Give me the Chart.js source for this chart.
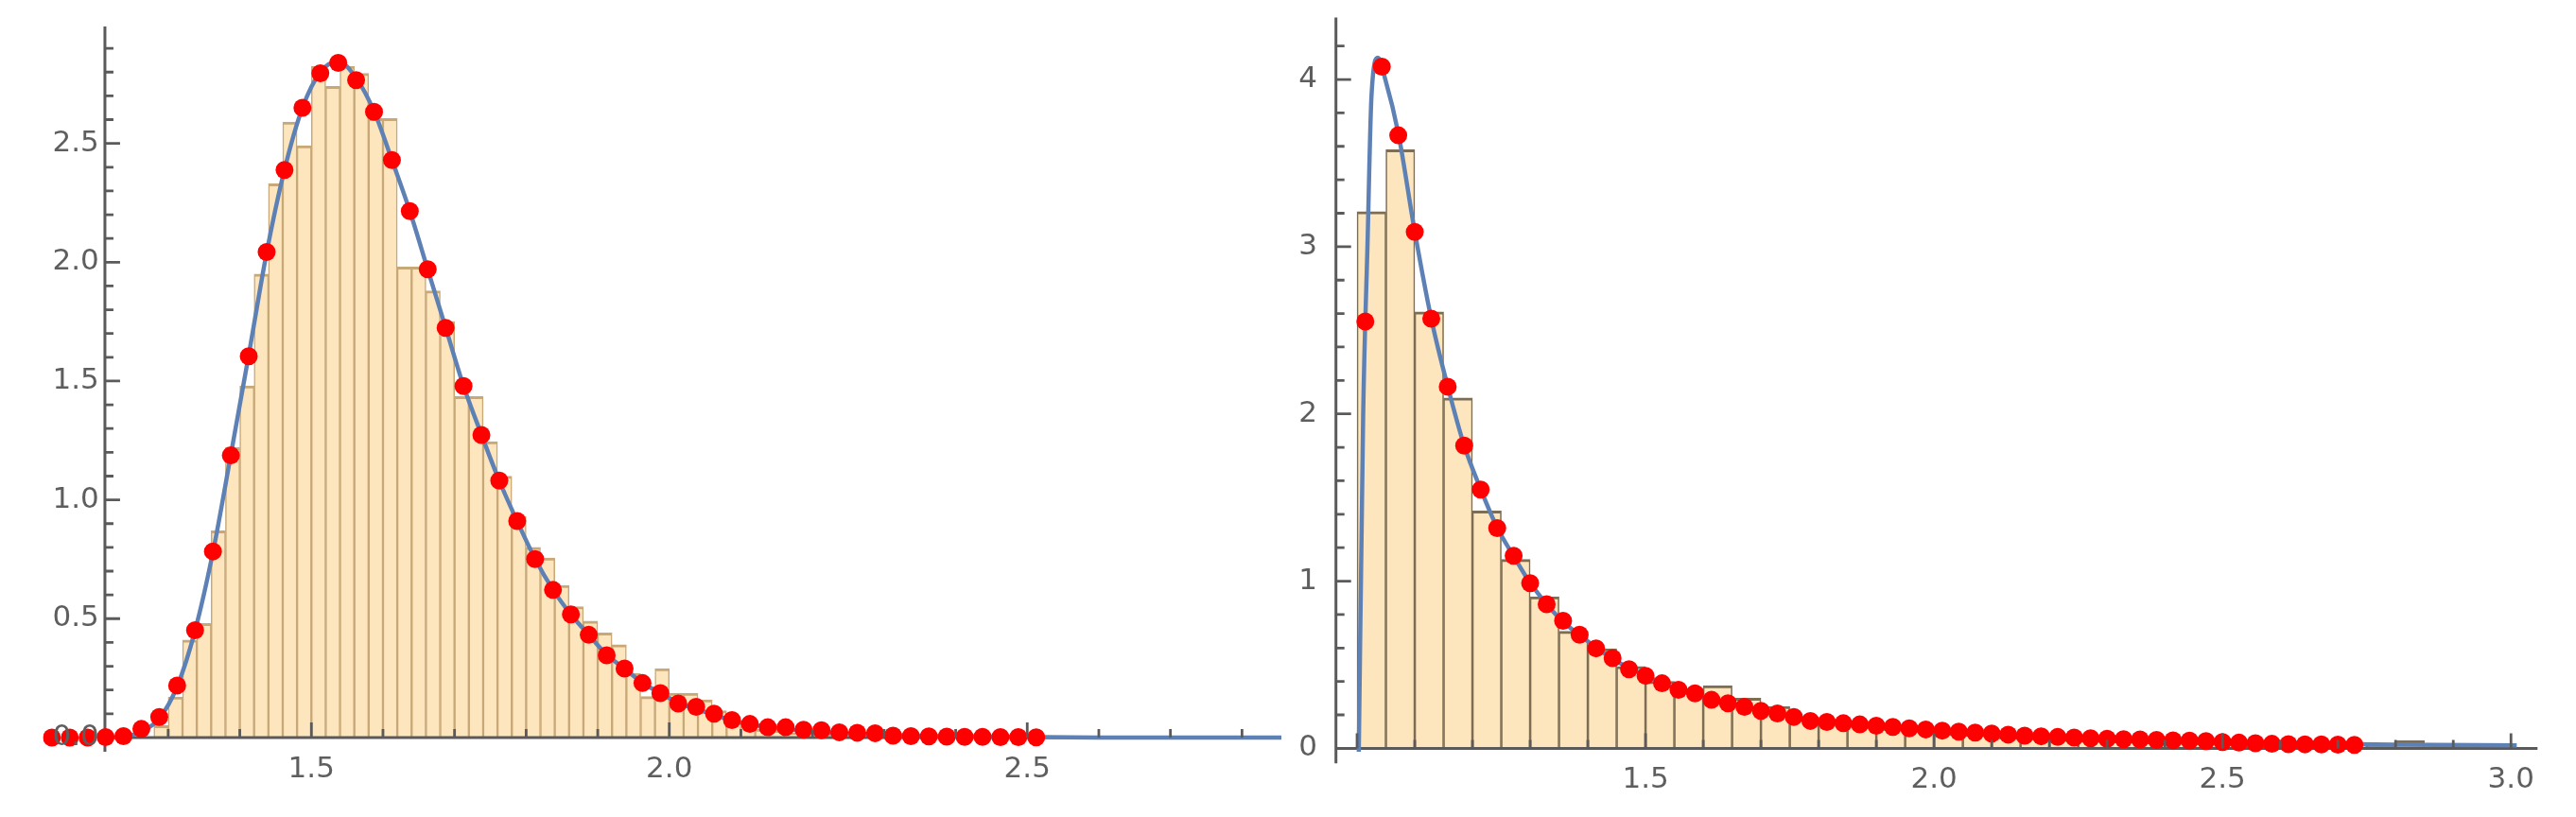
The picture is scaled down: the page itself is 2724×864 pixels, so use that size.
<!DOCTYPE html>
<html>
<head>
<meta charset="utf-8">
<script src="https://cdn.jsdelivr.net/npm/chart.js@4.4.1/dist/chart.umd.min.js"></script>
<style>
  html, body { margin: 0; padding: 0; background: #fff; }
  body { width: 2724px; height: 864px; position: relative; overflow: hidden; }
  canvas { position: absolute; top: 0; }
  #left { left: 0; }
  #right { left: 1370px; }
</style>
</head>
<body>
<canvas id="left" width="1370" height="864"></canvas>
<canvas id="right" width="1354" height="864"></canvas>
<script>
// ---- left panel: histogram (bin width 0.02), red points, fitted curve
const LEFT_BIN_W = 0.02;
const leftBinStart = [1.28, 1.30, 1.32, 1.34, 1.36, 1.38, 1.40, 1.42, 1.44, 1.46, 1.48, 1.50, 1.52, 1.54, 1.56, 1.58,
  1.60, 1.62, 1.64, 1.66, 1.68, 1.70, 1.72, 1.74, 1.76, 1.78, 1.80, 1.82, 1.84, 1.86, 1.88, 1.90, 1.92, 1.94, 1.96,
  1.98, 2.00, 2.02, 2.04, 2.06, 2.08, 2.10, 2.12, 2.14, 2.16, 2.18, 2.20, 2.22, 2.24, 2.26];
const leftBinHeight = [0.05, 0.17, 0.41, 0.48, 0.87, 1.22, 1.48, 1.95, 2.33, 2.59, 2.49, 2.825, 2.74, 2.825, 2.795, 2.605,
  2.605, 1.98, 1.98, 1.88, 1.75, 1.435, 1.435, 1.245, 1.10, 0.93, 0.80, 0.755, 0.64, 0.55, 0.49, 0.44, 0.39, 0.27, 0.172,
  0.29, 0.186, 0.186, 0.159, 0.113, 0.07, 0.05, 0.035, 0.03, 0.02, 0.018, 0.012, 0.01, 0.008, 0.006];

const leftPointX = [1.1375, 1.1625, 1.1875, 1.2125, 1.2375, 1.2625, 1.2875, 1.3125, 1.3375, 1.3625, 1.3875, 1.4125,
  1.4375, 1.4625, 1.4875, 1.5125, 1.5375, 1.5625, 1.5875, 1.6125, 1.6375, 1.6625, 1.6875, 1.7125, 1.7375, 1.7625,
  1.7875, 1.8125, 1.8375, 1.8625, 1.8875, 1.9125, 1.9375, 1.9625, 1.9875, 2.0125, 2.0375, 2.0625, 2.0875, 2.1125,
  2.1375, 2.1625, 2.1875, 2.2125, 2.2375, 2.2625, 2.2875, 2.3125, 2.3375, 2.3625, 2.3875, 2.4125, 2.4375, 2.4625,
  2.4875, 2.5125];
const leftPointY = [0.0, 0.0, 0.0, 0.002, 0.006, 0.036, 0.086, 0.219, 0.451, 0.783, 1.187, 1.604,
  2.043, 2.388, 2.650, 2.795, 2.839, 2.766, 2.633, 2.430, 2.215, 1.970, 1.724, 1.479, 1.273, 1.081,
  0.911, 0.751, 0.621, 0.518, 0.432, 0.346, 0.290, 0.229, 0.187, 0.143, 0.129, 0.100, 0.073, 0.057,
  0.043, 0.043, 0.033, 0.031, 0.022, 0.020, 0.018, 0.008, 0.006, 0.005, 0.004, 0.003, 0.003, 0.002,
  0.002, 0.001];

const leftCurveX = [1.2125, 1.2375, 1.2625, 1.2875, 1.3125, 1.3375, 1.3625, 1.3875, 1.4125, 1.4375, 1.4625, 1.4875,
  1.5125, 1.5375, 1.5625, 1.5875, 1.6125, 1.6375, 1.6625, 1.6875, 1.7125, 1.7375, 1.7625, 1.7875, 1.8125, 1.8375,
  1.8625, 1.8875, 1.9125, 1.9375, 1.9625, 1.9875, 2.0125, 2.05, 2.10, 2.15, 2.20, 2.30, 2.40, 2.50, 2.60, 2.855];
const leftCurveY = [0.0, 0.004, 0.025, 0.08, 0.215, 0.45, 0.78, 1.19, 1.61, 2.04, 2.39, 2.65,
  2.80, 2.845, 2.775, 2.635, 2.43, 2.215, 1.97, 1.725, 1.48, 1.275, 1.08, 0.91, 0.752, 0.622,
  0.518, 0.432, 0.348, 0.29, 0.23, 0.187, 0.146, 0.108, 0.062, 0.04, 0.026, 0.012, 0.005, 0.002, 0.0, 0.0];

// ---- right panel: histogram (bin width 0.05), red points, fitted curve
const RIGHT_BIN_W = 0.05;
const rightBinStart = [1.00, 1.05, 1.10, 1.15, 1.20, 1.25, 1.30, 1.35, 1.40, 1.45, 1.50, 1.55, 1.60, 1.65, 1.70, 1.75,
  1.80, 1.85, 1.90, 1.95, 2.00, 2.05, 2.10, 2.15, 2.20, 2.25, 2.30, 2.35, 2.40, 2.45, 2.50, 2.55, 2.60, 2.65, 2.70,
  2.75, 2.80];
const rightBinHeight = [3.21, 3.58, 2.61, 2.095, 1.42, 1.13, 0.907, 0.70, 0.596, 0.49, 0.40, 0.36, 0.375, 0.30, 0.25, 0.19,
  0.16, 0.14, 0.12, 0.11, 0.09, 0.085, 0.07, 0.065, 0.055, 0.05, 0.045, 0.04, 0.038, 0.035, 0.03, 0.028, 0.025, 0.022, 0.03,
  0.015, 0.045];

const rightPointX = [1.0143, 1.0429, 1.0714, 1.1000, 1.1286, 1.1571, 1.1857, 1.2143, 1.2429, 1.2714, 1.3000, 1.3286,
  1.3571, 1.3857, 1.4143, 1.4429, 1.4714, 1.5000, 1.5286, 1.5571, 1.5857, 1.6143, 1.6429, 1.6714, 1.7000, 1.7286,
  1.7571, 1.7857, 1.8143, 1.8429, 1.8714, 1.9000, 1.9286, 1.9571, 1.9857, 2.0143, 2.0429, 2.0714, 2.1000, 2.1286,
  2.1571, 2.1857, 2.2143, 2.2429, 2.2714, 2.3000, 2.3286, 2.3571, 2.3857, 2.4143, 2.4429, 2.4714, 2.5000, 2.5286,
  2.5571, 2.5857, 2.6143, 2.6429, 2.6714, 2.7000, 2.7286];
const rightPointY = [2.552, 4.076, 3.666, 3.088, 2.570, 2.163, 1.810, 1.547, 1.317, 1.152, 0.988, 0.862,
  0.763, 0.679, 0.598, 0.539, 0.473, 0.434, 0.389, 0.350, 0.329, 0.290, 0.269, 0.248, 0.224, 0.209,
  0.188, 0.164, 0.158, 0.150, 0.143, 0.135, 0.128, 0.120, 0.113, 0.106, 0.100, 0.094, 0.088, 0.082,
  0.076, 0.072, 0.068, 0.064, 0.060, 0.057, 0.055, 0.053, 0.050, 0.048, 0.046, 0.043, 0.038, 0.034,
  0.030, 0.027, 0.025, 0.024, 0.023, 0.022, 0.021];

const rightCurveX = [1.003, 1.0106, 1.018, 1.025, 1.036, 1.049, 1.0714, 1.10, 1.1286, 1.1571, 1.1857, 1.2143,
  1.2429, 1.2714, 1.30, 1.35, 1.40, 1.45, 1.50, 1.55, 1.60, 1.70, 1.80, 1.90, 2.00, 2.20, 2.40, 2.60, 2.80, 3.01];
const rightCurveY = [-0.02, 2.0, 3.0, 3.9, 4.13, 4.0, 3.68, 3.09, 2.57, 2.165, 1.81, 1.55,
  1.32, 1.15, 0.99, 0.78, 0.64, 0.52, 0.435, 0.36, 0.305, 0.225, 0.165, 0.13, 0.105, 0.068, 0.047, 0.03, 0.022, 0.018];

// ---- styles
const AXIS_COLOR = '#5a5a5a';
const LABEL_COLOR = '#5e5e5e';
const BAR_FILL = '#fde5bd';
const CURVE_COLOR = '#5e81b5';
const POINT_COLOR = '#ff0000';
const MAJOR_TICK = 16;
const MINOR_TICK = 9;

Chart.defaults.font.family = "'DejaVu Sans', sans-serif";

const isMajor = (v, step) => Math.abs(v / step - Math.round(v / step)) < 1e-6;
const toPoints = (xs, ys) => xs.map((x, i) => ({ x, y: ys[i] }));

// axes crossing at (originX, 0), ticks pointing inward like the original
const mmaAxes = {
  id: 'mmaAxes',
  afterDatasetDraw(chart, args, opts) {
    if (args.meta.type !== 'bar') return;
    const { ctx } = chart;
    const xs = chart.scales.x, ys = chart.scales.y;
    const ox = xs.getPixelForValue(opts.originX);
    const oy = ys.getPixelForValue(0);
    ctx.save();
    ctx.strokeStyle = AXIS_COLOR;
    ctx.lineWidth = 3;
    ctx.beginPath();
    ctx.moveTo(ox, ys.top);
    ctx.lineTo(ox, ys.bottom);
    ctx.moveTo(ox - 1.5, oy);
    ctx.lineTo(xs.right, oy);
    ctx.stroke();
    ctx.restore();
  },
  afterDraw(chart, args, opts) {
    const { ctx } = chart;
    const xs = chart.scales.x, ys = chart.scales.y;
    const ox = xs.getPixelForValue(opts.originX);
    const oy = ys.getPixelForValue(0);
    ctx.save();
    ctx.strokeStyle = AXIS_COLOR;
    ctx.lineWidth = 2.8;
    ctx.beginPath();
    xs.ticks.forEach(t => {
      if (t.value <= opts.originX + 1e-9) return;
      const px = xs.getPixelForValue(t.value);
      const len = isMajor(t.value, opts.majorX) ? MAJOR_TICK : MINOR_TICK;
      ctx.moveTo(px, oy);
      ctx.lineTo(px, oy - len);
    });
    ys.ticks.forEach(t => {
      if (t.value <= 1e-9) return;
      const py = ys.getPixelForValue(t.value);
      const len = isMajor(t.value, opts.majorY) ? MAJOR_TICK : MINOR_TICK;
      ctx.moveTo(ox, py);
      ctx.lineTo(ox + len, py);
    });
    ctx.stroke();
    ctx.restore();
  }
};

function makePanel(id, p) {
  const bars = p.binStart.map((s, i) => ({ x: s + p.binW / 2, y: p.binHeight[i] }));
  return new Chart(document.getElementById(id), {
    type: 'scatter',
    data: {
      datasets: [
        {
          type: 'bar',
          data: bars,
          backgroundColor: BAR_FILL,
          borderColor: p.edgeColor,
          borderWidth: { top: p.edgeTop, left: p.edgeSide, right: p.edgeSide, bottom: 0 },
          barPercentage: 1,
          categoryPercentage: 1,
          order: 3
        },
        {
          type: 'line',
          data: toPoints(p.curveX, p.curveY),
          borderColor: CURVE_COLOR,
          borderWidth: 4.5,
          pointRadius: 0,
          fill: false,
          cubicInterpolationMode: 'monotone',
          order: 2
        },
        {
          type: 'scatter',
          data: toPoints(p.pointX, p.pointY),
          pointRadius: 9.5,
          pointBackgroundColor: POINT_COLOR,
          pointBorderWidth: 0,
          showLine: false,
          order: 1
        }
      ]
    },
    options: {
      responsive: false,
      animation: false,
      devicePixelRatio: 1,
      events: [],
      layout: { padding: p.padding },
      plugins: {
        legend: { display: false },
        tooltip: { enabled: false },
        mmaAxes: { originX: p.originX, majorX: 0.5, majorY: p.majorY }
      },
      scales: {
        x: {
          type: 'linear',
          axis: 'x',
          position: { y: 0 },
          min: p.xMin,
          max: p.xMax,
          offset: false,
          grid: { display: false, drawTicks: false },
          border: { display: false },
          ticks: {
            stepSize: 0.1,
            includeBounds: false,
            autoSkip: false,
            maxRotation: 0,
            padding: 15,
            color: LABEL_COLOR,
            font: { size: 31 },
            z: 1,
            callback: v => (isMajor(v, 0.5) && v >= p.xLabelFrom - 1e-9) ? v.toFixed(1) : ''
          }
        },
        y: {
          type: 'linear',
          axis: 'y',
          position: { x: p.originX },
          min: p.yMin,
          max: p.yMax,
          grid: { display: false, drawTicks: false },
          border: { display: false },
          ticks: {
            stepSize: p.yStep,
            includeBounds: false,
            autoSkip: false,
            padding: 0,
            color: LABEL_COLOR,
            font: { size: 31 },
            z: 1,
            callback: v => isMajor(v, p.majorY) ? v.toFixed(p.yDecimals) + p.labelGap : ''
          }
        }
      }
    },
    plugins: [mmaAxes]
  });
}

makePanel('left', {
  binStart: leftBinStart, binHeight: leftBinHeight, binW: LEFT_BIN_W,
  pointX: leftPointX, pointY: leftPointY, curveX: leftCurveX, curveY: leftCurveY,
  edgeColor: '#c8a877', edgeTop: 3, edgeSide: 1.5,
  xMin: 1.125, xMax: 2.855, yMin: -0.06, yMax: 2.992, yStep: 0.1,
  originX: 1.2116, majorY: 0.5, yDecimals: 1, labelGap: '\u2009', xLabelFrom: 1.5,
  padding: { left: 45.4, right: 15, top: 28, bottom: 69 }
});

makePanel('right', {
  binStart: rightBinStart, binHeight: rightBinHeight, binW: RIGHT_BIN_W,
  pointX: rightPointX, pointY: rightPointY, curveX: rightCurveX, curveY: rightCurveY,
  edgeColor: '#7d6d52', edgeTop: 3, edgeSide: 1.6,
  xMin: 0.9634, xMax: 3.046, yMin: -0.09, yMax: 4.37, yStep: 0.2,
  originX: 0.9634, majorY: 1, yDecimals: 0, labelGap: '\u2007', xLabelFrom: 1.5,
  padding: { left: 42.7, right: 40.7, top: 18.4, bottom: 56.7 }
});
</script>
</body>
</html>
